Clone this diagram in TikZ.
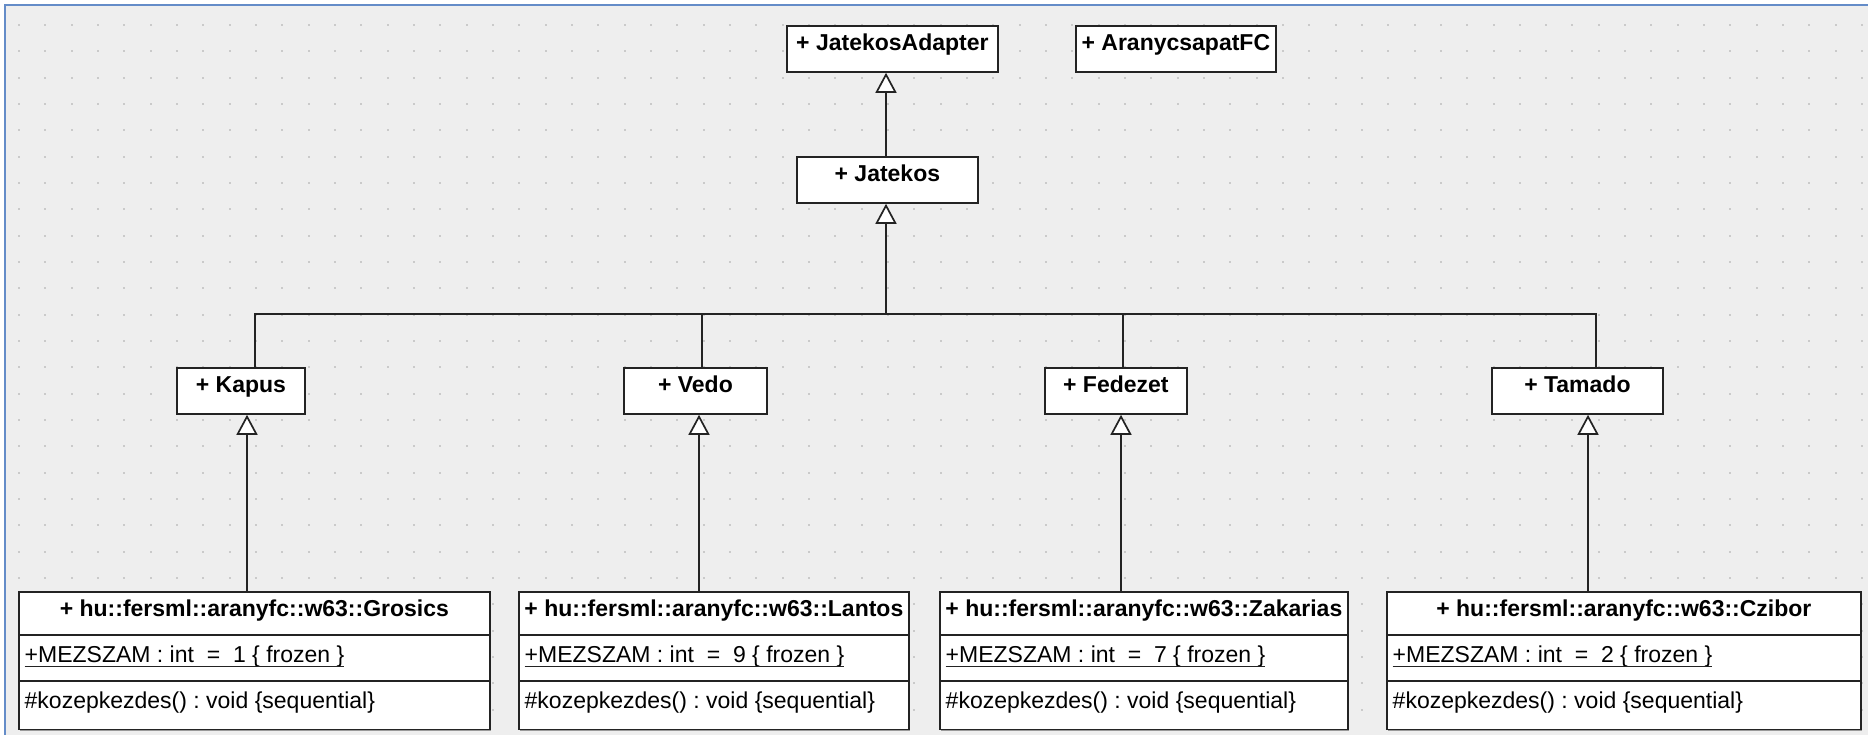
\documentclass[tikz,border=0pt]{standalone}
\usepackage{fontspec}
\setmainfont{Liberation Sans}
\usetikzlibrary{arrows.meta,shadows,calc}
\frenchspacing

\definecolor{canvas}{RGB}{238,238,238}
\definecolor{griddot}{RGB}{202,202,202}
\definecolor{frameblue}{RGB}{100,140,200}
\definecolor{ink}{RGB}{35,35,35}

\tikzset{
  classbox/.style={draw=ink, line width=1.8pt, fill=white, inner sep=0pt,
    anchor=north west,
    drop shadow={shadow xshift=1.3pt, shadow yshift=-1.3pt, fill=black, opacity=0.35}},
  titletext/.style={font=\fontsize{23}{27}\selectfont\bfseries, anchor=base, inner sep=0pt},
  bodytext/.style={font=\fontsize{23}{27}\selectfont, anchor=base west, inner sep=0pt},
  link/.style={draw=ink, line width=1.7pt},
  inherit/.style={link, -{Triangle[width=21pt,length=20pt,open,fill=white]}},
}

% a one-compartment class: name, x1, y1, x2, y2, title
\newcommand\plainclass[6]{%
  \node[classbox, minimum width={(#4-#2)*1pt}, minimum height={(#5-#3)*1pt}] (#1) at (#2,#3) {};
  \node[titletext] (#1-t) at ($(#1.north)+(0,25.5)$) {#6};
}

% a three-compartment class: name, x1, x2, title, shirt number
\newcommand\playerclass[5]{%
  \node[classbox, minimum width={(#3-#2)*1pt}, minimum height=137.5pt] (#1) at (#2,591) {};
  \draw[link, line width=1.8pt] ($(#1.north west)+(0,44)$) -- ($(#1.north east)+(0,44)$);
  \draw[link, line width=1.8pt] ($(#1.north west)+(0,90)$) -- ($(#1.north east)+(0,90)$);
  \node[titletext] (#1-t) at ($(#1.north)+(0,25)$) {#4};
  \node[bodytext] (#1-a) at ($(#1.north west)+(6.5,71)$) {+MEZSZAM : int\ \ =\ \ #5 \{ frozen \}};
  \draw[ink, line width=1.4pt] ($(#1-a.base west)+(0,4.5)$) -- ($(#1-a.base east)+(0,4.5)$);
  \node[bodytext] (#1-m) at ($(#1.north west)+(6.5,117.5)$) {\#kozepkezdes() : void \{sequential\}};
}

\begin{document}
\begin{tikzpicture}[x=1pt, y=-1pt]
  \useasboundingbox (0,0) rectangle (1868,735);
  \clip (0,0) rectangle (1868,735);

  % drawing canvas with its dotted grid and frame
  \fill[white] (0,0) rectangle (1868,735);
  \fill[canvas] (5,5) rectangle (1868,735);
  \foreach \i in {0,...,70} {
    \foreach \j in {0,...,27} {
      \fill[griddot] ({18+26.33*\i},{24+26.33*\j}) rectangle ++(2,2);
    }
  }
  \draw[frameblue, line width=2pt] (5,735) -- (5,5) -- (1868,5);

  % classes
  \plainclass{jadapter}{786}{25}{997}{71}{+ JatekosAdapter}
  \plainclass{aranycsapat}{1075}{25}{1275}{71}{+ AranycsapatFC}
  \plainclass{jatekos}{796}{156}{977}{202}{+ Jatekos}
  \plainclass{kapus}{176}{367}{304}{413}{+ Kapus}
  \plainclass{vedo}{623}{367}{766}{413}{+ Vedo}
  \plainclass{fedezet}{1044}{367}{1186}{413}{+ Fedezet}
  \plainclass{tamado}{1491}{367}{1662}{413}{+ Tamado}

  \playerclass{grosics}{18}{489}{+ hu::fersml::aranyfc::w63::Grosics}{1}
  \playerclass{lantos}{518}{908}{+ hu::fersml::aranyfc::w63::Lantos}{9}
  \playerclass{zakarias}{939}{1347}{+ hu::fersml::aranyfc::w63::Zakarias}{7}
  \playerclass{czibor}{1386}{1860}{+ hu::fersml::aranyfc::w63::Czibor}{2}

  % routing positions of the connectors
  \coordinate (bus) at (0,314);
  \coordinate (xJat) at (886,0);
  \coordinate (xKap) at (255,0);
  \coordinate (xVed) at (702,0);
  \coordinate (xFed) at (1123,0);
  \coordinate (xTam) at (1596,0);
  \coordinate (xGro) at (247,0);
  \coordinate (xLan) at (699,0);
  \coordinate (xZak) at (1121,0);
  \coordinate (xCzi) at (1588,0);

  % generalisations
  \draw[inherit] (jatekos.north -| xJat) -- (jadapter.south -| xJat);
  \draw[link] (kapus.north -| xKap) -- (bus -| xKap) -- (bus -| xTam) -- (tamado.north -| xTam);
  \draw[link] (vedo.north -| xVed) -- (bus -| xVed);
  \draw[link] (fedezet.north -| xFed) -- (bus -| xFed);
  \draw[inherit] (bus -| xJat) -- (jatekos.south -| xJat);

  \draw[inherit] (grosics.north -| xGro) -- (kapus.south -| xGro);
  \draw[inherit] (lantos.north -| xLan) -- (vedo.south -| xLan);
  \draw[inherit] (zakarias.north -| xZak) -- (fedezet.south -| xZak);
  \draw[inherit] (czibor.north -| xCzi) -- (tamado.south -| xCzi);
\end{tikzpicture}
\end{document}
